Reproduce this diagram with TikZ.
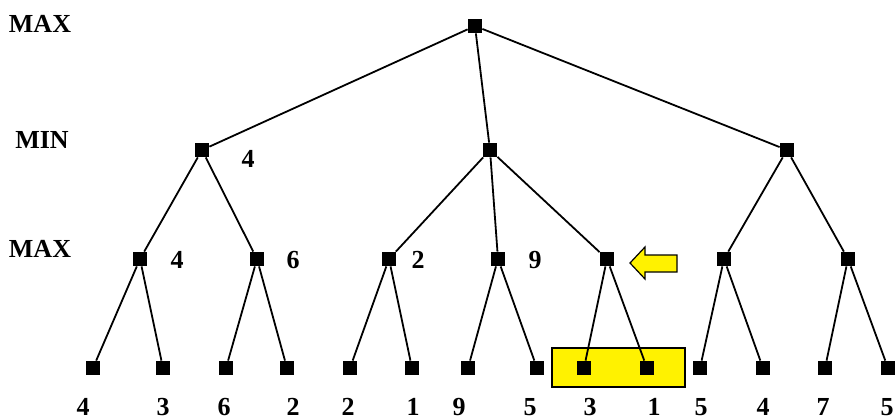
\documentclass[tikz,border=0pt]{standalone}
\usepackage{fontspec}
\setmainfont{Liberation Serif}
\usetikzlibrary{positioning}

\begin{document}
\begin{tikzpicture}[x=0.5pt, y=-0.5pt,
  font=\fontsize{13}{15}\selectfont\bfseries,
  dot/.style={fill=black, inner sep=0pt, minimum size=7pt},
  val/.style={inner sep=0pt},
  edge/.style={line width=0.9pt},
  hilite/.style={draw, fill=yellow, line width=0.6pt, inner sep=0pt,
                 minimum width=66.5pt, minimum height=19.5pt}]
\useasboundingbox (0,0) rectangle (896,419);
% level names
\node[val] (lmax) at (40,24) {MAX};
\node[val] (lmin) at (42,140) {MIN};
\node[val] (lmaxb) at (40,249) {MAX};
% highlighted pair and pointer
\node[hilite] (box) at (618.5,367.5) {};
\filldraw[fill=yellow, line width=0.6pt] (677,255) -- (645,255) -- (645,247) -- (630,263)
  -- (645,279) -- (645,272) -- (677,272) -- cycle;
% tree nodes
\node[dot] (r) at (475,26) {};
\node[dot] (m1) at (202,150) {};
\node[dot] (m2) at (490,150) {};
\node[dot] (m3) at (787,150) {};
\foreach \x [count=\i] in {140,257,389,498,607,724,848}
  \node[dot] (x\i) at (\x,259) {};
\foreach \x [count=\i] in {93,163,226,287,350,412,468,537,584,647,700,763,825,888}
  \node[dot] (l\i) at (\x,368) {};
% edges
\draw[edge] (r)--(m1); \draw[edge] (r)--(m2); \draw[edge] (r)--(m3);
\draw[edge] (m1)--(x1); \draw[edge] (m1)--(x2);
\draw[edge] (m2)--(x3); \draw[edge] (m2)--(x4); \draw[edge] (m2)--(x5);
\draw[edge] (m3)--(x6); \draw[edge] (m3)--(x7);
\foreach \p/\a/\b in {x1/l1/l2, x2/l3/l4, x3/l5/l6, x4/l7/l8, x5/l9/l10, x6/l11/l12, x7/l13/l14}
  \draw[edge] (\p)--(\a) (\p)--(\b);
% values
\node[val] (vm1) at (248,159) {4};
\foreach \x/\v [count=\i] in {177/4, 293/6, 418/2, 535/9}
  \node[val] (vx\i) at (\x,260) {\v};
\foreach \x/\v [count=\i] in {83/4, 163/3, 224/6, 293/2, 348/2, 413/1, 459/9,
                             530/5, 590/3, 654/1, 701/5, 763/4, 823/7, 887/5}
  \node[val] (vl\i) at (\x,407) {\v};
\end{tikzpicture}
\end{document}
